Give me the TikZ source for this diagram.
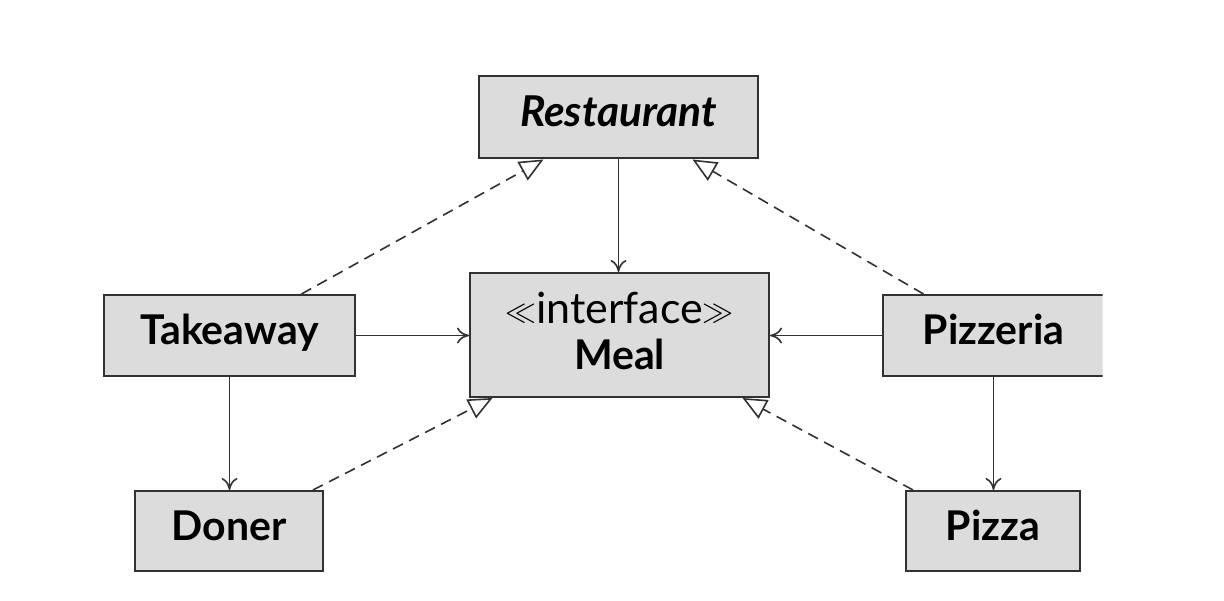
\RequirePackage{fix-cm}
\documentclass[tikz,border=0pt]{standalone}
\usepackage{fontspec}
\setmainfont{Lato}
\usetikzlibrary{arrows.meta,calc}
\definecolor{boxfill}{RGB}{220,220,220}
\definecolor{linegray}{RGB}{50,50,50}
\newcommand{\guil}[1]{\raisebox{2.5pt}{\fontsize{31}{31}\selectfont$#1$}}
\tikzset{
  umlbox/.style={draw=linegray, fill=boxfill, line width=2pt, rectangle,
    inner sep=0pt, text height=28pt, text depth=9pt,
    font=\fontsize{41}{46}\selectfont\bfseries},
  assoc/.style={draw=linegray, line width=1.6pt,
    -{Computer Modern Rightarrow[length=12pt,width=16pt]}},
  realize/.style={draw=linegray, line width=1.6pt, dash pattern=on 11pt off 7pt,
    -{Triangle[open,length=24pt,width=21pt,line width=1.6pt]}},
}
\begin{document}
\begin{tikzpicture}[x=1pt,y=-1pt]
\useasboundingbox[fill=white] (0,0) rectangle (1224,601);
\begin{scope}
\clip (0,0) rectangle (1102.5,601);
% nodes
\node[umlbox, minimum width=279pt, minimum height=82pt] (rest) at (618.5,117.5) {\fontsize{42.5}{46}\selectfont\itshape Restaurant};
\node[umlbox, minimum width=299pt, minimum height=124pt, align=center,
      text height=, text depth=] (meal) at (619.5,335)
  {{\mdseries\fontsize{43}{46}\selectfont\guil{\ll}interface\guil{\gg}}\\Meal\rule[-8pt]{0pt}{8pt}};
\node[umlbox, minimum width=251pt, minimum height=81pt] (take) at (229.5,335.5) {Takeaway};
\node[umlbox, minimum width=221pt, minimum height=81pt] (pizzeria) at (993.5,335.5) {Pizzeria};
\node[umlbox, minimum width=188pt, minimum height=80pt] (doner) at (229,531) {Doner};
\node[umlbox, minimum width=174pt, minimum height=80pt] (pizza) at (993,531) {Pizza};
% associations
\draw[assoc] (rest.south) -- (rest.south |- meal.north);
\draw[assoc] (take.east) -- (take.east -| meal.west);
\draw[assoc] (pizzeria.west) -- (pizzeria.west -| meal.east);
\draw[assoc] (take.south) -- (take.south |- doner.north);
\draw[assoc] (pizzeria.south) -- (pizzeria.south |- pizza.north);
% realizations
\draw[realize] ($(take.north)+(72,0)$) -- ($(rest.south)+(-75,0)$);
\draw[realize] ($(pizzeria.north)+(-70,0)$) -- ($(rest.south)+(74,0)$);
\draw[realize] ($(doner.north)+(84,0)$) -- ($(meal.south)+(-127,0)$);
\draw[realize] ($(pizza.north)+(-80,0)$) -- ($(meal.south)+(123,0)$);
\end{scope}
\end{tikzpicture}
\end{document}
